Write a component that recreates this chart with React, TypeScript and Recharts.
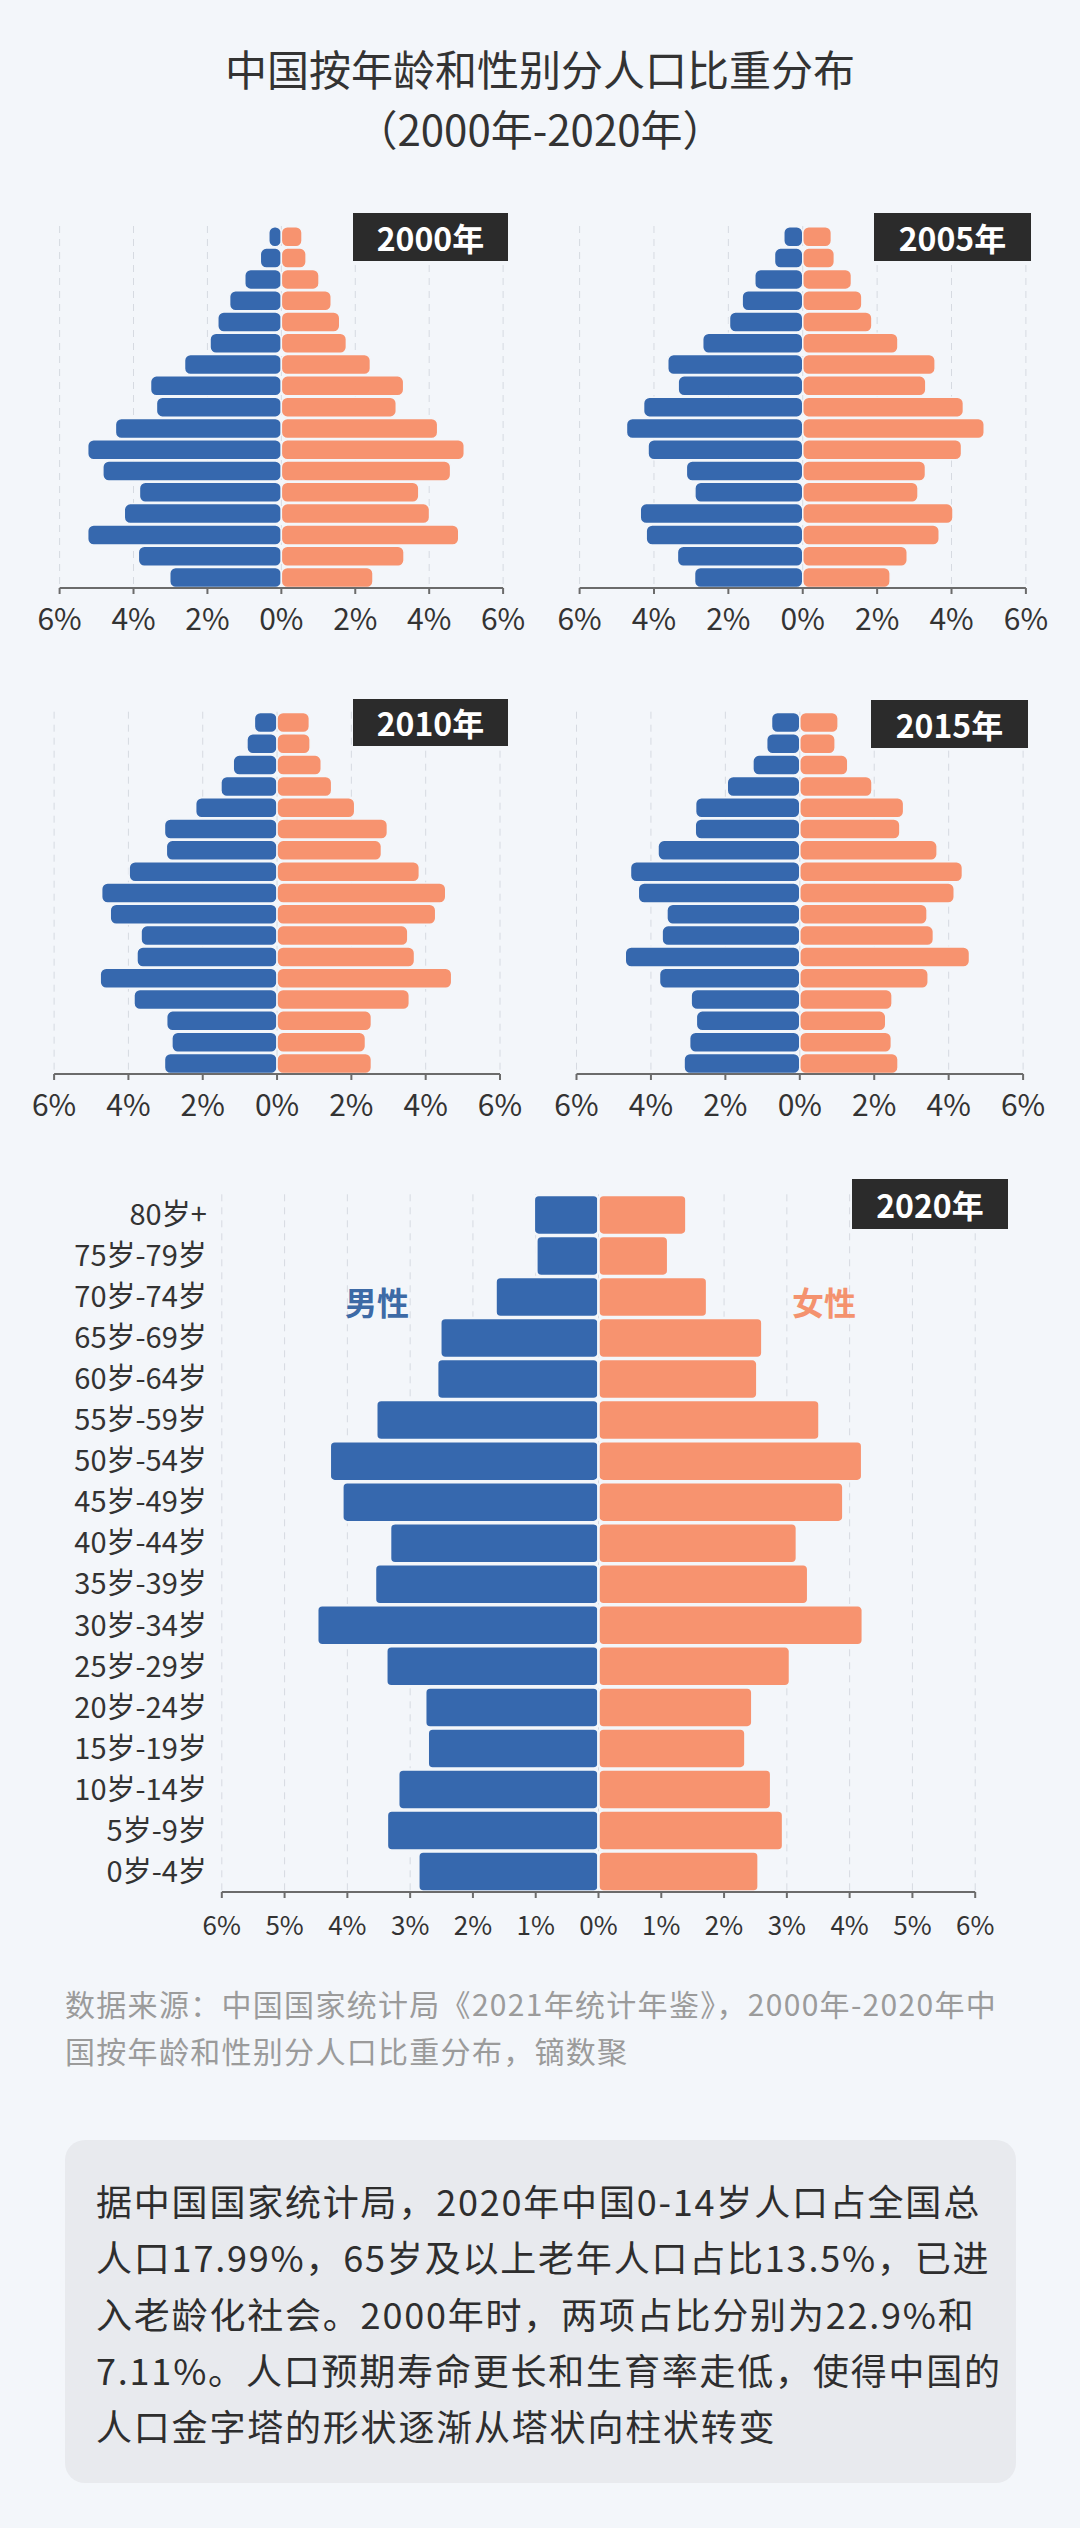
import { BarChart, Bar, XAxis, YAxis, CartesianGrid } from "recharts";

const BG = "#f3f6fa";
const MALE_COLOR = "#3668ae";
const FEMALE_COLOR = "#f7936f";
const FONT = "'Noto Sans CJK SC', 'Noto Sans', sans-serif";

const AGE_GROUPS = [
  "80岁+", "75岁-79岁", "70岁-74岁", "65岁-69岁", "60岁-64岁", "55岁-59岁",
  "50岁-54岁", "45岁-49岁", "40岁-44岁", "35岁-39岁", "30岁-34岁", "25岁-29岁",
  "20岁-24岁", "15岁-19岁", "10岁-14岁", "5岁-9岁", "0岁-4岁",
];

const MALE_2000 = [0.34, 0.57, 0.99, 1.4, 1.72, 1.93, 2.62, 3.54, 3.38, 4.49, 5.24, 4.83, 3.84, 4.25, 5.24, 3.87, 3.02];
const FEMALE_2000 = [0.56, 0.67, 1.02, 1.35, 1.58, 1.76, 2.41, 3.31, 3.11, 4.23, 4.95, 4.58, 3.72, 4.01, 4.8, 3.32, 2.48];
const MALE_2005 = [0.51, 0.76, 1.29, 1.63, 1.97, 2.69, 3.63, 3.35, 4.28, 4.74, 4.16, 3.13, 2.9, 4.37, 4.21, 3.37, 2.91];
const FEMALE_2005 = [0.77, 0.85, 1.31, 1.59, 1.86, 2.56, 3.56, 3.31, 4.32, 4.88, 4.27, 3.3, 3.1, 4.04, 3.67, 2.81, 2.35];
const MALE_2010 = [0.61, 0.81, 1.18, 1.51, 2.19, 3.03, 2.98, 3.98, 4.72, 4.49, 3.66, 3.77, 4.76, 3.85, 2.97, 2.83, 3.03];
const FEMALE_2010 = [0.87, 0.89, 1.19, 1.47, 2.09, 2.97, 2.81, 3.83, 4.54, 4.27, 3.52, 3.7, 4.7, 3.56, 2.54, 2.38, 2.54];
const MALE_2015 = [0.76, 0.89, 1.26, 1.95, 2.8, 2.81, 3.81, 4.55, 4.34, 3.57, 3.7, 4.69, 3.77, 2.92, 2.78, 2.96, 3.11];
const FEMALE_2015 = [1.03, 0.95, 1.29, 1.94, 2.79, 2.69, 3.69, 4.37, 4.15, 3.42, 3.59, 4.56, 3.45, 2.48, 2.31, 2.46, 2.64];
const MALE_2020 = [1.03, 0.99, 1.64, 2.52, 2.57, 3.54, 4.28, 4.08, 3.32, 3.56, 4.48, 3.38, 2.76, 2.72, 3.19, 3.37, 2.87];
const FEMALE_2020 = [1.4, 1.11, 1.73, 2.61, 2.53, 3.52, 4.2, 3.9, 3.16, 3.34, 4.21, 3.05, 2.45, 2.34, 2.75, 2.94, 2.55];

const SMALL_TICKS = [-6, -4, -2, 0, 2, 4, 6];
const BIG_TICKS = [-6, -5, -4, -3, -2, -1, 0, 1, 2, 3, 4, 5, 6];

const SOURCE_LINES = [
  "数据来源：中国国家统计局《2021年统计年鉴》，2000年-2020年中",
  "国按年龄和性别分人口比重分布，镝数聚",
];

const NOTE_LINES = [
  "据中国国家统计局，2020年中国0-14岁人口占全国总",
  "人口17.99%，65岁及以上老年人口占比13.5%，已进",
  "入老龄化社会。2000年时，两项占比分别为22.9%和",
  "7.11%。人口预期寿命更长和生育率走低，使得中国的",
  "人口金字塔的形状逐渐从塔状向柱状转变",
];

const toRows = (male: number[], female: number[]) =>
  AGE_GROUPS.map((age, i) => ({ age, male: -male[i], female: female[i] }));

type PyramidProps = {
  male: number[];
  female: number[];
  left: number;
  top: number;
  width: number;
  height: number;
  margin: { top: number; right: number; bottom: number; left: number };
  ticks: number[];
  tickFont: number;
  tickMargin: number;
  gap: number;
  stroke: number;
  radius: number;
  showAges?: boolean;
};

function Pyramid(p: PyramidProps) {
  const data = toRows(p.male, p.female);
  return (
    <div style={{ position: "absolute", left: p.left, top: p.top }}>
      <BarChart
        width={p.width}
        height={p.height}
        data={data}
        layout="vertical"
        stackOffset="sign"
        margin={p.margin}
        barCategoryGap={p.gap}
      >
        <CartesianGrid horizontal={false} strokeDasharray="7 6" stroke="#d6dae1" />
        <XAxis
          type="number"
          domain={[-6, 6]}
          ticks={p.ticks}
          interval={0}
          height={50}
          tickFormatter={(v: number) => `${Math.abs(v)}%`}
          tick={{ fontSize: p.tickFont, fill: "#333", fontFamily: FONT }}
          tickMargin={p.tickMargin}
          tickSize={6}
          axisLine={{ stroke: "#6b6b6b", strokeWidth: 2 }}
          tickLine={{ stroke: "#6b6b6b", strokeWidth: 2 }}
        />
        <YAxis
          type="category"
          dataKey="age"
          hide={!p.showAges}
          width={200}
          axisLine={false}
          tickLine={false}
          tickMargin={9}
          interval={0}
          tick={{ fontSize: 29, fill: "#333", fontFamily: FONT }}
        />
        <Bar dataKey="male" stackId="p" fill={MALE_COLOR} stroke={BG} strokeWidth={p.stroke} radius={p.radius} isAnimationActive={false} />
        <Bar dataKey="female" stackId="p" fill={FEMALE_COLOR} stroke={BG} strokeWidth={p.stroke} radius={p.radius} isAnimationActive={false} />
      </BarChart>
    </div>
  );
}

function YearTag({ label, left, top, width, height }: { label: string; left: number; top: number; width: number; height: number }) {
  return (
    <div
      style={{
        position: "absolute", left, top, width, height, background: "#2b2b2b", color: "#fff",
        fontSize: 32, fontWeight: 700, lineHeight: `${height}px`, textAlign: "center",
      }}
    >
      {label}
    </div>
  );
}

const small = { width: 540, tickFont: 30, tickMargin: 15, gap: 0.8, stroke: 1.5, radius: 6, ticks: SMALL_TICKS };

export default function App() {
  return (
    <div style={{ position: "absolute", left: 0, top: 0, width: 1080, height: 2528, background: BG, fontFamily: FONT, overflow: "hidden" }}>
      <div style={{ position: "absolute", top: 38, width: 1080, textAlign: "center", fontSize: 42, lineHeight: "60px", color: "#333" }}>
        中国按年龄和性别分人口比重分布
      </div>
      <div style={{ position: "absolute", top: 98, width: 1080, textAlign: "center", fontSize: 42, lineHeight: "60px", color: "#333" }}>
        （2000年-2020年）
      </div>

      <Pyramid {...small} male={MALE_2000} female={FEMALE_2000} left={0} top={200} height={450}
        margin={{ top: 26, right: 36.9, bottom: 12, left: 59.6 }} />
      <Pyramid {...small} male={MALE_2005} female={FEMALE_2005} left={540} top={200} height={450}
        margin={{ top: 26, right: 54.1, bottom: 12, left: 39.6 }} />
      <Pyramid {...small} male={MALE_2010} female={FEMALE_2010} left={0} top={650} height={480}
        margin={{ top: 61.7, right: 40, bottom: 6, left: 54.1 }} />
      <Pyramid {...small} male={MALE_2015} female={FEMALE_2015} left={540} top={650} height={480}
        margin={{ top: 61.7, right: 56.9, bottom: 6, left: 36.5 }} />

      <Pyramid male={MALE_2020} female={FEMALE_2020} left={0} top={1150} width={1080} height={800}
        margin={{ top: 44.3, right: 104.8, bottom: 8, left: 21.8 }} ticks={BIG_TICKS}
        tickFont={26} tickMargin={19} gap={0.6} stroke={2.5} radius={5} showAges />

      <YearTag label="2000年" left={353} top={213} width={155} height={48} />
      <YearTag label="2005年" left={874} top={213} width={157} height={48} />
      <YearTag label="2010年" left={353} top={699} width={155} height={47} />
      <YearTag label="2015年" left={871} top={700} width={157} height={48} />
      <YearTag label="2020年" left={852} top={1179} width={156} height={50} />

      <div style={{ position: "absolute", left: 345, top: 1281, fontSize: 32, fontWeight: 700, lineHeight: "40px", color: "#3d6aa6" }}>男性</div>
      <div style={{ position: "absolute", left: 792, top: 1281, fontSize: 32, fontWeight: 700, lineHeight: "40px", color: "#f4926e" }}>女性</div>

      <div style={{ position: "absolute", left: 65, top: 1980, fontSize: 30, lineHeight: "47px", letterSpacing: 1.3, color: "#9b9b9b", whiteSpace: "nowrap" }}>
        {SOURCE_LINES.map((l) => <div key={l}>{l}</div>)}
      </div>

      <div style={{ position: "absolute", left: 65, top: 2140, width: 951, height: 343, background: "#e8eaee", borderRadius: 20 }}>
        <div style={{ position: "absolute", left: 31, top: 32, fontSize: 36, lineHeight: "56.3px", letterSpacing: 1.8, color: "#2e2e2e", whiteSpace: "nowrap" }}>
          {NOTE_LINES.map((l) => <div key={l}>{l}</div>)}
        </div>
      </div>
    </div>
  );
}
